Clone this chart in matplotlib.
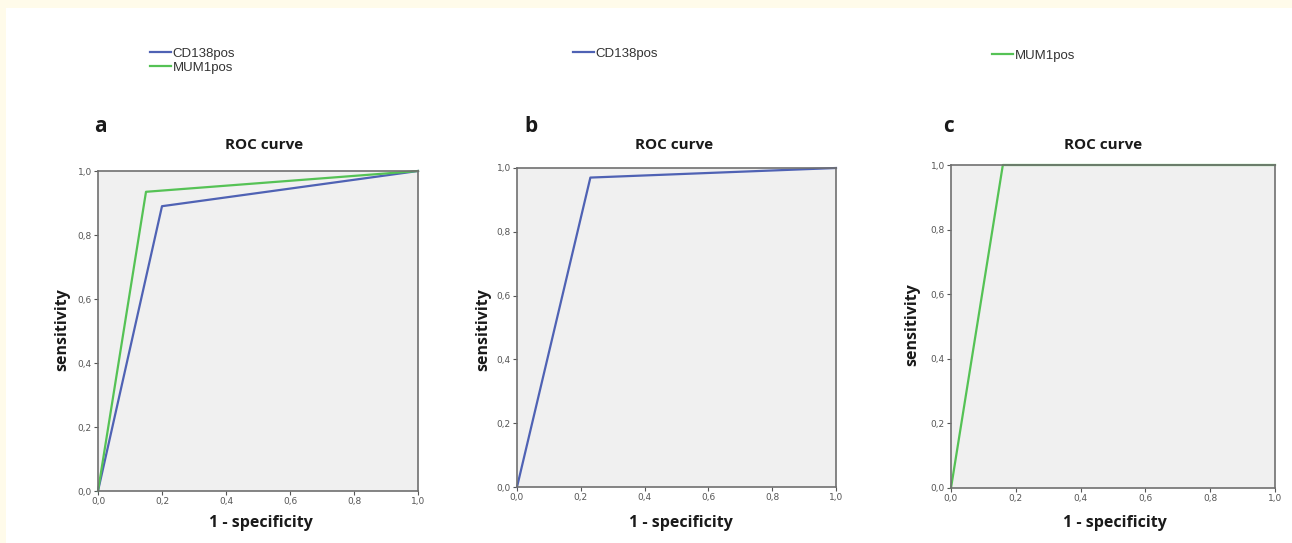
import matplotlib.pyplot as plt
from matplotlib.patches import Rectangle

# ROC data
fpr_cd138_a = [0.0, 0.20, 1.0]
tpr_cd138_a = [0.0, 0.89, 1.0]
fpr_mum1_a = [0.0, 0.15, 1.0]
tpr_mum1_a = [0.0, 0.935, 1.0]
fpr_cd138_b = [0.0, 0.23, 1.0]
tpr_cd138_b = [0.0, 0.97, 1.0]
fpr_mum1_c = [0.0, 0.16, 1.0]
tpr_mum1_c = [0.0, 1.0, 1.0]

ticks = [0.0, 0.2, 0.4, 0.6, 0.8, 1.0]
tick_labels = ['0,0', '0,2', '0,4', '0,6', '0,8', '1,0']

blue = '#4f62b4'
green = '#55c255'
W, H = 1292, 543

fig = plt.figure(figsize=(W / 100, H / 100), dpi=100)
fig.patch.set_facecolor('#fffbea')
fig.patches.append(Rectangle((6 / W, 0), 1, 1 - 8 / H, transform=fig.transFigure,
                             facecolor='white', edgecolor='none', zorder=-10))

bold = dict(family='Open Sans', weight='bold', color='#1a1a1a')


def px_axes(l, t, r, b):
    return fig.add_axes([l / W, 1 - b / H, (r - l) / W, (b - t) / H])


def setup(ax):
    ax.set_facecolor('#f0f0f0')
    ax.set_xlim(0, 1)
    ax.set_ylim(0, 1)
    ax.set_xticks(ticks)
    ax.set_yticks(ticks)
    ax.set_xticklabels(tick_labels)
    ax.set_yticklabels(tick_labels)
    ax.tick_params(length=3, width=0.8, color='#555555', labelsize=6.5,
                   labelcolor='#555555', pad=1.5)
    for s in ax.spines.values():
        s.set_color('#707070')
        s.set_linewidth(1.2)


panels = [
    # left, top, right, bottom (px), letter, letter pos, title pos, xlabel pos, ylabel pos
    ((98, 171, 418, 491), 'a', (100, 126), (264, 145), (261, 523), (62, 330)),
    ((517, 168, 836, 487), 'b', (531, 126), (674, 145), (681, 523), (483, 330)),
    ((951, 165, 1275, 488), 'c', (949, 126), (1103, 145), (1115, 523), (912, 325)),
]

axes = []
for box, letter, lp, tp, xp, yp in panels:
    ax = px_axes(*box)
    setup(ax)
    axes.append(ax)
    fig.text(lp[0] / W, 1 - lp[1] / H, letter, fontsize=15, ha='center', va='center', **bold)
    fig.text(tp[0] / W, 1 - tp[1] / H, 'ROC curve', fontsize=11, ha='center', va='center', **bold)
    fig.text(xp[0] / W, 1 - xp[1] / H, '1 - specificity', fontsize=11.5, ha='center', va='center', **bold)
    fig.text(yp[0] / W, 1 - yp[1] / H, 'sensitivity', fontsize=11.5, ha='center', va='center',
             rotation=90, **bold)

axes[0].plot(fpr_cd138_a, tpr_cd138_a, color=blue, lw=1.6, label='CD138pos')
axes[0].plot(fpr_mum1_a, tpr_mum1_a, color=green, lw=1.6, label='MUM1pos')
axes[1].plot(fpr_cd138_b, tpr_cd138_b, color=blue, lw=1.6, label='CD138pos')
axes[2].plot(fpr_mum1_c, tpr_mum1_c, color=green, lw=1.6, label='MUM1pos')
for ax in axes:
    for ln in ax.lines:
        ln.set_clip_on(False)

leg_kw = dict(frameon=False, handlelength=1.6, handletextpad=0.15,
              labelspacing=0.12, borderpad=0, prop={'family': 'Liberation Sans', 'size': 9.5})
axes[0].legend(loc='upper left', bbox_to_anchor=(143 / W, 1 - 41 / H),
               bbox_transform=fig.transFigure, **leg_kw)
axes[1].legend(loc='upper left', bbox_to_anchor=(566 / W, 1 - 41 / H),
               bbox_transform=fig.transFigure, **leg_kw)
axes[2].legend(loc='upper left', bbox_to_anchor=(985 / W, 1 - 43 / H),
               bbox_transform=fig.transFigure, **leg_kw)
for ax in axes:
    for t in ax.get_legend().get_texts():
        t.set_color('#333333')

fig.savefig('out.png', dpi=100)
